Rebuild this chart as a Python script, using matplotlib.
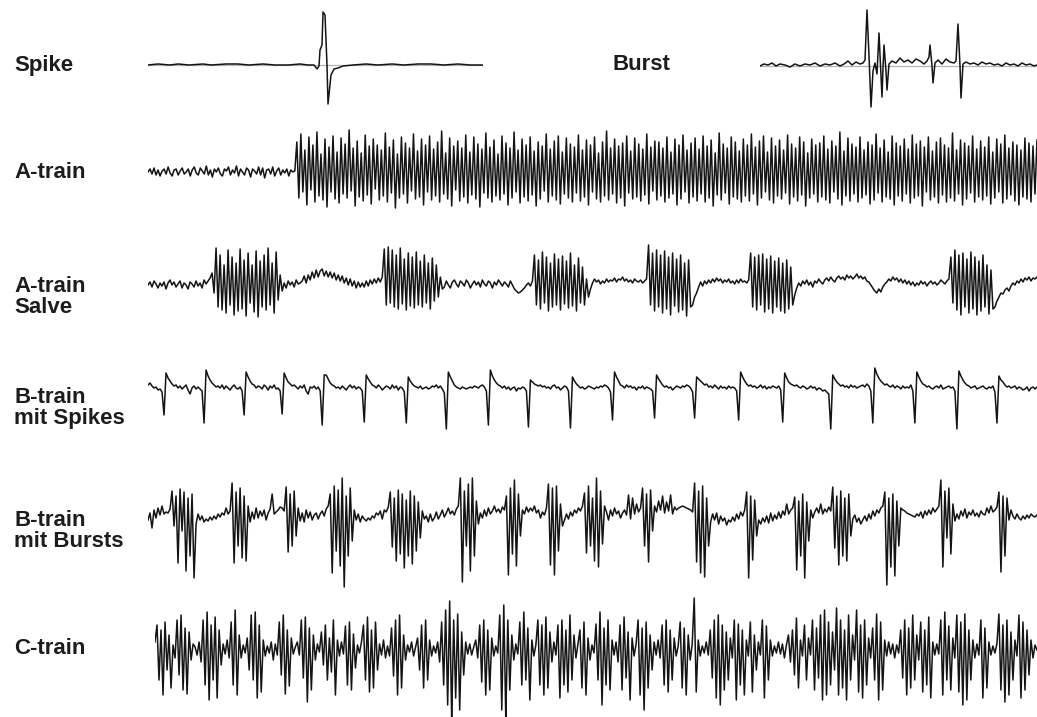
import numpy as np
import matplotlib
matplotlib.use('Agg')
import matplotlib.pyplot as plt

W, H = 1037, 717

# single spike (time in samples, amplitude relative to baseline)
spike_t = [0, 10, 22, 30, 41, 55, 63, 78, 90, 101, 115, 127, 140, 152, 160, 166, 169, 171, 172, 174,
           175, 177, 179, 180, 183, 186, 190, 195, 205, 218, 230, 244, 256, 270, 283, 296, 310, 322, 335]
spike_v = [0, 1, 0, 1, 0, 1, 0, 1, 1, 0, 1, 0, 0, 1, 0, 0, -4, -1, 15, 20,
           53, 50, 0, -39, -10, -4, -3, -1, 0, 1, 0, 1, 0, 1, 1, 0, 1, 0, 0]

# single burst
burst_t = [0, 4, 8, 12, 16, 20, 25, 30, 35, 40,
           45, 50, 55, 60, 65, 70, 75, 80, 84, 88,
           92, 96, 100, 103, 105, 107, 109, 111, 113, 115,
           117, 119, 121, 122, 123, 124, 126, 127, 129, 132,
           136, 140, 144, 148, 152, 156, 160, 164, 167, 169,
           170, 172, 173, 175, 178, 182, 186, 190, 194, 196,
           198, 200, 201, 203, 206, 210, 214, 218, 222, 226,
           230, 234, 238, 242, 246, 250, 254, 258, 262, 266,
           270, 274, 277]
burst_v = [0, 2, 1, 3, 0, 2, 1, -1, 2, 0,
           2, 1, 3, 0, 2, 1, 3, 0, 2, 5,
           1, 4, 2, 3, 6, 56, 10, -41, -5, 3,
           -8, 33, -10, -31, -2, 21, -5, -24, 2, 5,
           3, 8, 4, 6, 3, 7, 5, 2, 5, 9,
           21, 0, -17, 3, 6, 2, 7, 4, 3, 5,
           42, 0, -32, 2, 4, 2, 3, 1, 4, 2,
           3, 1, 2, 0, 3, 1, 2, 0, 3, 1,
           2, 0, 1]

# A-train: quiet start, then continuous high-frequency train
a_train = [
    0, 3, -2, 4, -3, 2, -4, 1, 3, -2, 5, -1, -4, 2, 3, -3, 1, 4, -2, 0,
    3, -4, 2, 5, -1, -3, 4, 1, -2, 6, -3, 2, -5, 3, 0, 4, -2, -4, 3, 1,
    5, -3, 2, -1, 6, -4, 3, 0, -3, 4, 2, -5, 3, 1, -2, 5, -3, 4, -6, 2,
    3, -2, 5, -4, 1, 4, -3, 2, -1, 3, -4, 2, 0, 1,
    30, -26, 38, -20, 22, -33, 35, -18, 27, -30, 40, -24, 18, -28, 33, -35, 25, -20, 36, -27,
    20, -31, 34, -22, 28, -26, 42, -19, 24, -34, 31, -25, 19, -29, 37, -23, 26, -32, 33, -17,
    27, -28, 22, -24, 39, -30, 25, -21, 32, -36, 18, -26, 35, -22, 29, -31, 24, -19, 38, -27,
    21, -25, 33, -33, 27, -20, 36, -28, 23, -24, 30, -30, 41, -22, 19, -27, 34, -34, 26, -18,
    31, -29, 24, -25, 37, -31, 20, -23, 35, -27, 28, -35, 23, -21, 39, -26, 25, -30, 32, -24,
    18, -28, 36, -22, 29, -33, 24, -26, 40, -20, 22, -31, 33, -25, 27, -29, 35, -23, 21, -34,
    30, -27, 26, -19, 38, -30, 23, -24, 31, -28, 36, -32, 20, -22, 34, -26, 28, -30, 25, -21,
    37, -29, 22, -25, 32, -33, 27, -20, 35, -27, 19, -30, 30, -24, 41, -28, 24, -22, 33, -31,
    26, -26, 29, -34, 36, -21, 21, -27, 34, -25, 28, -29, 23, -23, 38, -32, 25, -19, 31, -28,
    30, -24, 24, -30, 35, -26, 20, -22, 33, -33, 27, -27, 37, -20, 22, -31, 29, -25, 34, -29,
    23, -22, 36, -30, 26, -26, 32, -34, 19, -23, 39, -28, 28, -21, 24, -32, 35, -25, 30, -27,
    21, -30, 33, -24, 27, -29, 38, -22, 25, -33, 31, -26, 36, -20, 20, -28, 34, -31, 26, -24,
    32, -27, 22, -21, 37, -32, 28, -25, 24, -29, 35, -23, 30, -34, 19, -26, 33, -22, 27, -30,
    29, -25, 36, -28, 23, -31, 31, -20, 26, -27, 40, -33, 21, -24, 34, -29, 28, -22, 25, -30,
    35, -26, 22, -23, 30, -32, 27, -28, 38, -21, 24, -30, 32, -25, 20, -27, 36, -33, 29, -24,
    26, -29, 33, -22, 23, -31, 37, -26, 28, -24, 31, -34, 25, -20, 35, -28, 21, -25, 30, -31,
    34, -23, 27, -30, 24, -26, 39, -29, 22, -22, 32, -33, 29, -27, 26, -21, 36, -30, 23, -25,
    31, -28, 25, -24, 35, -32, 20, -26, 33, -20, 28, -31, 37, -27, 24, -23, 30, -29, 27, -33,
    22, -25, 34, -27, 29, -30, 26, -22, 32,
]

# A-train salve: six short bursts
a_salve = [
    0, 3, -2, 4, 1, -3, 2, -1, 3, -4, 2, 5, 0, 3, -2, 1, 4, -3, 2, 0,
    -4, 3, 1, -2, 4, -1, 2, -3, 5, 1, 4, 7,
    12, -8, 37, -22, 30, -25, 20, -28, 35, -20, 28, -30, 22, -26, 36, -24, 25, -31, 32, -18,
    20, -27, 34, -32, 24, -22, 30, -25, 37, -20, 22, -28, 33, -15, 10,
    -6, 2, -3, 4, 0, 3, -2, 5, 1, 2, 4, 9, 2, 10, 5, 13, 7, 15, 8, 14,
    16, 9, 14, 8, 13, 7, 12, 5, 10, 4, 9, 2, 7, 0, 6, -1, 4, -3, 3, -2,
    2, -2, 4, -1, 5, 1, 6, 2, 7, 3, 8,
    36, -20, 38, -18, 35, -22, 30, -24, 37, -19, 26, -25, 32, -21, 28, -23, 33, -20, 24, -22,
    30, -18, 22, -24, 27, -16, 20, -12, 8, -4,
    -2, 4, 0, -3, 3, 5, 1, -2, 4, 2, -1, 5, 2, -3, 1, 4, 0, 3, -2, 5,
    1, -1, 4, 2, -3, 3, 0, 5, 2, -1, 3, 1, -2, 4, 0, -4, -6, -8, -7, -5,
    -3, 0, 2, -1, 4,
    30, -20, 25, -24, 33, -18, 28, -26, 22, -22, 31, -20, 26, -25, 29, -19, 24, -23, 32, -21,
    20, -26, 27, -18, 18, -20, 6,
    -12, -4, 2, 6, 3, 5, 1, 4, 2, 6, 3, 5, 4, 7, 3, 6, 5, 8, 4, 6,
    3, 5, 2, 6, 4, 3, 5, 2, 4, 6,
    40, -20, 32, -26, 35, -22, 30, -28, 34, -24, 28, -30, 32, -21, 26, -27, 30, -25, 22, -31,
    25, -22, -20,
    -12, -8, -2, 3, -1, 4, 1, 5, 2, 6, 3, 7, 4, 6, 2, 5, 3, 6, 2, 4,
    1, 5, 2, 6, 3, 4, 2, 5,
    32, -22, 28, -25, 30, -20, 31, -27, 26, -24, 29, -28, 24, -22, 27, -26, 22, -28, 25, -24,
    18, -20,
    -10, -3, 2, -1, 4, 1, 5, 0, 3, -2, 4, 2, 6, 3, 1, 5, 7, 4, 8, 5,
    3, 7, 9, 6, 8, 5, 10, 7, 9, 6, 8, 11, 7, 9, 6, 8, 4, 3, 0, -3,
    -6, -8, -4, -7, -2, 1, 3, 6, 4, 8, 5, 7, 3, 6, 2, 5, 1, 4, 0, 3,
    -1, 2, 0, 4, 1, 3, -1, 2, 4, 1, 3, 0, 2, 5, 3, 1, 4, 6,
    28, -18, 35, -25, 30, -30, 32, -22, 26, -28, 33, -24, 28, -30, 24, -26, 30, -22, 20, -29,
    15, -24,
    -22, -16, -12, -8, -9, -5, -3, -6, -1, 2, 0, 4, 2, 6, 3, 7, 5, 8, 4, 7, 6, 8,
]

# B-train with single spikes
b_spikes = [
    3, 5, 2, 0, 1, -2, -1, -4,
    -27, 15, 10, 7, 4, 2, 3, 0, 2, -1, 1, 3, -2, -6, 0, 2, -1, 1, -1, -3,
    -35, 18, 12, 8, 5, 3, 1, 2, 0, 3, -1, 2, 0, -2, 1, 3, 0, -1, 1, -3,
    -27, 16, 11, 7, 4, 3, 0, 2, 1, -1, 3, 1, -2, 2, 0, 3, -1, 0, -3,
    -26, 15, 10, 6, 4, 2, 3, 1, -1, 2, 0, 3, -3, -6, 1, 0, 2, -1, 1, -3,
    -37, 13, 13, 9, 5, 3, 2, 0, 1, -1, 2, 0, -2, 1, 3, 0, 2, -1, 1, 0, -3,
    -34, 13, 9, 6, 3, 2, 0, 3, 1, -2, 0, 2, 1, -1, 3, 0, 2, -2, 1, 0, -4,
    -35, 11, 7, 4, 2, 1, 0, 2, -1, 0, 1, -1, 0, 2, 1, 3, 0, 2, -1, -5,
    -41, 16, 11, 7, 3, 1, 0, -1, 1, 0, -1, 0, 1, 0, 2, 1, 0, 2, 3, 1, -3,
    -37, 18, 12, 8, 5, 3, 2, 0, 2, -1, 1, -2, 0, 1, -3, 0, -1, 1, 0, -3,
    -39, 8, 6, 4, 3, 2, 3, 1, 2, 0, 1, -1, 2, 3, 0, 1, -2, 0, 2, 1, -3,
    -40, 11, 7, 4, 2, 0, 1, -1, 0, 2, 1, 0, -1, 1, 0, 2, 1, 3, 2, 0, -4,
    -32, 16, 11, 7, 3, 2, 0, 3, 1, 2, 0, 1, -2, 1, 0, 2, -1, 1, 0, -1, -3,
    -30, 13, 9, 6, 3, 1, 2, 0, 1, -2, 0, 2, 1, 0, 2, 1, 3, 2, 0, -4,
    -30, 11, 9, 7, 5, 3, 4, 1, 2, 0, 3, 1, -1, 2, 0, 1, -1, 2, 0, 1, 0, -3,
    -32, 16, 11, 7, 4, 2, 3, 1, 2, 0, 1, 3, 0, 2, -1, 1, 0, 2, 1, 0, 2, -2,
    -34, 15, 10, 6, 4, 3, 2, 3, 1, 0, 2, 1, -1, 0, 2, 0, 1, -2, 0, -1, -3, -2, -4, -6,
    -41, 13, 9, 6, 4, 2, 3, 1, 2, 0, 3, 1, 2, 0, 1, 2, 3, 1, 4, 2, -3,
    -35, 20, 14, 10, 7, 5, 3, 4, 2, 1, 3, 0, 2, 1, -1, 2, 0, 1, 0, 3, -3,
    -35, 16, 11, 7, 4, 3, 1, 2, 0, -1, 1, 2, 0, 3, -1, 0, 1, 2, 0, 1, -3,
    -41, 17, 12, 8, 5, 3, 2, 0, 1, 2, -1, 0, 1, 2, 0, -1, 1, 0, 2, -4,
    -35, 12, 8, 6, 3, 1, 2, 0, 1, 2, -1, 1, 0, -2, -1, 1, -3, 0, 1, -1, 1,
]

# B-train with bursts
b_bursts = [
    -4, 3, -12, 6, -2, 8, 1, 10, 2, 4, 3, 7,
    25, -10, 20, -47, 27, -15, 24, -55, 18, -40, 22, -62,
    -8, 2, -4, 0, -6, -3, -5, -1, -4, 0, -3, 2, -1, 3, 1, 8, 2, 5,
    33, -47, 24, -30, 28, -42, 20, -45,
    10, -6, 4, -3, 8, -2, 5, 0, 6, -4, 3, 7, 22, 2, 4, 6, 9, 8, 5,
    29, -36, 22, -30, 25, -20,
    8, -5, 3, -6, 6, -2, 4, -4, 1, 3, -3, 2, 5, 0, 7, 10,
    22, -57, 30, -35, 26, -50, 38, -71, 20, -40, 28, -25,
    6, -4, 2, -6, 0, -3, -5, -2, -4, 0, -2, 3, 1, 5, -3, 6, 4, 9,
    24, -31, 18, -45, 26, -38, 22, -52, 16, -40, 25, -48, 20, -35, 14, -22,
    5, -3, 0, -6, 2, -5, -2, 4, -3, 1, 6, -1, 3, 8, 2, 5, 1, 7, 10,
    38, -66, 25, -30, 32, -55, 38, -40, 15,
    -8, 3, -2, 6, 0, 8, 2, 5, 10, 4, 7, 3, 9, 6,
    20, -59, 28, -38, 36, -50, 22, -20,
    6, 2, 9, 4, 8, 5, 10, 3, 6, -2, 4, 1, 8,
    32, -49, 28, -59, 30, -35, 12,
    -10, -4, 2, -3, 4, 0, 6, 3, 8, 5, 10,
    23, -37, 30, -30, 18, -45, 38, -51, 25, -28, 10,
    4, -4, 6, 0, 8, 2, 5, -2, 3, 6, 1, 21, -3, 18, 2, 12, 4, 8,
    28, -30, 22, -46, 26, -15,
    10, 4, 15, 6, 20, 3, 14, 5, 21, 2, 9, 6, 8, 9, 10, 9, 8, 7, 6, 4,
    33, -46, 25, -57, 30, -61, 18, -30,
    -6, 2, -4, 3, -8, 0, -5, -2, -9, -4, -6, -1, -5, 2, -3, 4, 0, 6,
    24, -62, 20, -44, 16, -20,
    -4, -8, -2, -6, 0, -7, 3, -5, 1, -3, 4, -2, 5, 1, 12, 2, 6, 8,
    19, -54, 15, -40, 22, -62, 14, -25,
    6, -2, 4, 8, 3, 12, 2, 7, 4, 9, 5,
    29, -32, 20, -49, 25, -40, 18, -45, 22, -20,
    -3, 1, -6, -2, -8, -4, 0, -5, 2, -3, 5, 0, 6, 3, 8, 10,
    24, -69, 18, -51, 22, -60, 15, -30,
    8, 6, 5, 3, 2, 1, 0, -1, 2, 0, 4, -2, 5, 1, 6, 2, 8, 4, 7, 10,
    36, -51, 25, -22, 28, -38, 12,
    -5, 2, -3, 5, 0, 7, -2, 4, 1, 6, 0, 3, -1, 5, 2, 1, 8, 3, 10, 4, 6, 9,
    24, -56, 20, -40, 18,
    -4, 6, 0, -3, 2, -2, -4, 0, -3, 1, -2, 2, 0, -1, 1,
]

# C-train: irregular dense activity
c_train = [
    8, 25, -30, 20, -45, 28, -20, 15, -38, 5, -8, 30, -25, 35, -40, 22, -44, 18, -10, 6,
    3, -5, 8, -12, 30, -35, 38, -50, 25, -30, 33, -48, 20, -15, 6, -4, 10, -8, 28, -35,
    40, -45, 15, -8, 5, -3, 12, -20, 35, -30, 38, -48, 25, -42, 10, -6, 4, -3, 8, -10,
    6, -5, 28, -25, 35, -44, 20, -36, 12, -4, 3, 8, -5, 30, -28, 33, -52, 22, -40, 15,
    -10, 6, -2, 18, -15, 25, -30, 12, -22, 30, -45, 10, -6, 8, -4, 24, -35, 28, -40, 16,
    -18, 5, -3, 8, 25, -30, 33, -42, 20, -38, 28, -20, 6, -5, 10, -8, 4, -6, 22, -26,
    30, -45, 35, -38, 15, -10, 5, -2, 8, -6, 3, 12, -20, 25, -38, 30, -30, 10, -6, 4,
    -3, 8, -12, 28, -35, 40, -55, 49, -69, 30, -48, 36, -60, 18, -25, 8, -4, 6, -5, 3,
    10, -8, 25, -32, 30, -45, 20, -40, 12, -6, 4, -3, 35, -60, 45, -69, 30, -40, 15, -10,
    6, -4, 28, -35, 38, -30, 22, -50, 10, -6, 5, 30, -35, 25, -45, 33, -38, 18, -12, 8,
    -5, 25, -48, 30, -35, 20, -42, 35, -30, 15, -8, 6, 20, -38, 28, -45, 12, -10, 5, -3,
    26, -30, 38, -55, 22, -35, 30, -40, 10, -5, 8, -12, 25, -40, 33, -28, 18, -50, 12, -6,
    6, 30, -45, 22, -60, 28, -38, 15, -20, 8, -5, 10, -8, 25, -35, 30, -42, 20, -30, 12,
    -6, 4, 28, -38, 22, -45, 15, -10, 6, 52, -42, 10, -6, 4, -3, 8, -5, 20, -28, 30,
    -48, 35, -55, 25, -40, 18, -30, 12, -8, 30, -50, 26, -35, 20, -45, 10, -6, 28, -42, 15,
    -20, 8, -5, 30, -48, 24, -30, 10, -6, 4, -3, 8, -4, 6, -8, 5, 15, -12, 20, -25,
    32, -38, 10, -6, 25, -30, 12, -5, 30, -40, 22, -28, 35, -50, 40, -45, 28, -35, 18, -20,
    42, -45, 30, -38, 20, -50, 35, -30, 15, -10, 40, -42, 25, -48, 30, -35, 12, -8, 22, -30,
    36, -50, 28, -40, 10, -6, 8, -4, 6, -8, 5, -3, 20, -28, 30, -45, 22, -38, 35, -30,
    15, -10, 28, -42, 20, -35, 33, -48, 8, -5, 6, -4, 30, -45, 38, -30, 24, -40, 12, -8,
    35, -42, 28, -55, 36, -50, 20, -30, 10, -8, 6, -5, 30, -48, 22, -38, 8, -5, 4, -3,
    6, 36, -40, 25, -52, 30, -45, 18, -30, 10, -6, 35, -48, 28, -40, 20, -25, 10, -8, 5, 0,
]

labels = ['Spike', 'Burst', 'A-train', 'A-train\nSalve', 'B-train\nmit Spikes',
          'B-train\nmit Bursts', 'C-train']

LINE = '#141414'


def add_trace(fig, values, x0, x1, base, t=None, ref_line=False):
    # one axes per trace, 1 data unit = 1 pixel vertically
    ax = fig.add_axes([x0 / W, 1 - (base + 80) / H, (x1 - x0) / W, 160 / H])
    ax.patch.set_alpha(0)
    if t is None:
        t = np.arange(len(values))
    if ref_line:
        ax.axhline(0, color='#b4b4b4', lw=0.9, zorder=1)
    ax.plot(t, values, color=LINE, lw=1.1, zorder=2)
    ax.set_xlim(t[0], t[-1])
    ax.set_ylim(-80, 80)
    ax.axis('off')
    return ax


fig = plt.figure(figsize=(W / 100, H / 100), dpi=100, facecolor='white')

add_trace(fig, spike_v, 148, 483, 65, t=spike_t, ref_line=True)
add_trace(fig, burst_v, 760, 1037, 66, t=burst_t, ref_line=True)
add_trace(fig, a_train, 148, 1037, 172)
add_trace(fig, a_salve, 148, 1037, 285)
add_trace(fig, b_spikes, 148, 1037, 388)
add_trace(fig, b_bursts, 148, 1037, 516)
add_trace(fig, c_train, 155, 1037, 650)

label_pos = [(14, 65), (612, 65), (14, 172), (14, 297), (14, 408), (14, 531), (14, 649)]
for text, (x, y) in zip(labels, label_pos):
    fig.text(x / W, 1 - y / H, text, fontsize=16, fontweight='bold', color='#1c1c1c',
             va='center', ha='left', linespacing=0.95,
             family=['Liberation Sans', 'DejaVu Sans'])

fig.savefig('out.png', dpi=100, facecolor='white')
